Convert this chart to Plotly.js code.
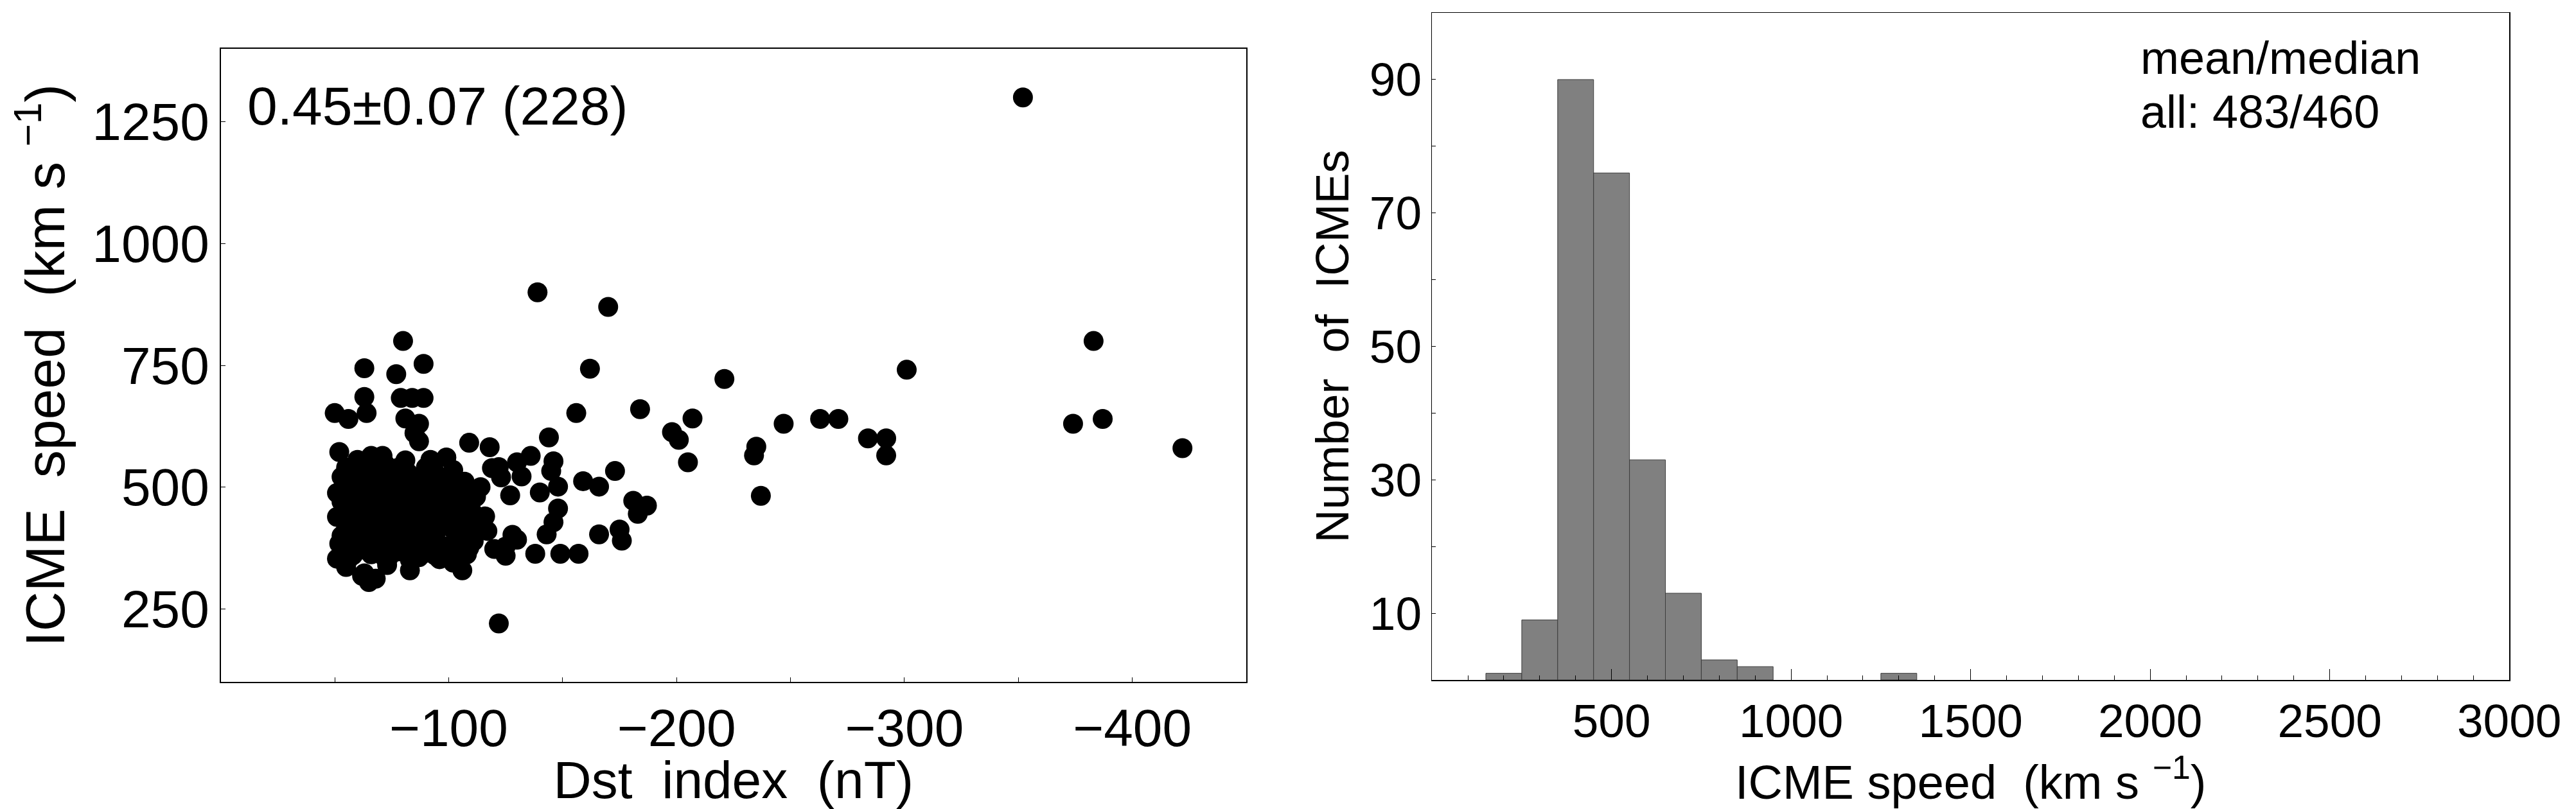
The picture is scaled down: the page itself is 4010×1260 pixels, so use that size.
<!DOCTYPE html>
<html>
<head>
<meta charset="utf-8">
<script src="https://cdn.plot.ly/plotly-3.0.1.min.js"></script>
<style>
  body { margin: 0; background: #fff; }
  #chart { width: 4010px; height: 1260px; }
</style>
</head>
<body>
<div id="chart"></div>
<script>
// Dst index (nT) vs ICME speed (km/s), 228 events
const dstIndex = [
  -352,
  -139, -170,
  -80, -383, -89,
  -63, -77, -162, -301, -221, -63, -79, -84, -89, -184, -156, -50, -64,
  -56, -81, -207, -263, -271, -387, -374, -247, -87, -85, -87, -198, -201, -144, -284, -292, -292,
  -234, -235, -422, -109, -118, -52, -205, -66, -71, -81, -92, -99, -146, -136, -130, -60,
  -173, -159, -166, -181, -187, -145, -148, -148, -140, -127, -132, -119, -122, -237, -107, -53, -51, -123, -108,
  -55, -58, -62, -65, -68, -72, -75, -78, -82, -86, -90, -94, -98, -102, -104,
  -54, -58, -62, -66, -70, -74, -78, -82, -86, -90, -94, -98, -102, -106, -110,
  -53, -57, -61, -65, -69, -73, -77, -81, -85, -89, -93, -97, -101, -105, -112,
  -56, -60, -64, -70, -76, -80, -84, -88, -92, -96, -100, -114,
  -183, -166, -175, -176, -157, -149, -138, -146, -143, -130, -125, -120, -125, -111, -116, -100,
  -111, -103, -83, -87, -51, -51, -52, -91, -97, -128, -117, -106,
  -54, -58, -62, -66, -70, -74, -78, -82, -86, -90, -94, -98, -102, -106, -108, -113,
  -55, -59, -63, -67, -71, -75, -79, -83, -87, -91, -95, -99, -103, -107, -110,
  -53, -57, -61, -65, -69, -73, -77, -81, -85, -89, -93, -105, -109,
  -54, -58, -62, -66, -70, -74, -78, -82, -86, -90, -94, -98, -104, -108,
  -60, -72, -96, -56,
  -106, -68, -63, -55, -62, -73, -83, -102, -65,
  -122
];
const icmeSpeed = [
  1300,
  900, 870,
  800, 800, 753,
  744, 732, 743, 741, 722, 685, 683, 683, 683, 660, 652, 652, 652,
  640, 641, 641, 640, 640, 640, 630, 630, 630, 611, 594, 613, 597, 602, 600, 600, 565,
  565, 583, 580, 591, 582, 572, 551, 564, 564, 555, 556, 561, 553, 564, 551, 556,
  533, 512, 501, 472, 462, 533, 501, 456, 489, 483, 522, 539, 541, 482, 511, 521, 488, 520, 459,
  540, 530, 545, 520, 535, 548, 525, 540, 530, 520, 540, 530, 520, 535, 500,
  505, 495, 510, 500, 490, 505, 495, 510, 500, 490, 505, 495, 485, 490, 470,
  470, 460, 475, 465, 480, 470, 460, 475, 465, 480, 470, 460, 470, 455, 480,
  455, 485, 458, 515, 478, 452, 488, 458, 515, 482, 452, 500,
  445, 403, 413, 390, 363, 363, 363, 428, 403, 392, 378, 373, 359, 445, 440, 378,
  389, 356, 351, 356, 353, 439, 384, 406, 380, 402, 410, 425,
  445, 435, 448, 438, 446, 432, 444, 436, 447, 434, 445, 432, 442, 438, 448, 425,
  420, 410, 425, 412, 422, 408, 420, 410, 423, 425, 412, 420, 405, 400, 412,
  400, 390, 402, 388, 398, 385, 396, 388, 398, 386, 395, 385, 375,
  370, 360, 372, 362, 375, 358, 368, 372, 380, 365, 360, 368, 370, 362,
  380, 355, 352, 352,
  329, 312, 323, 336, 318, 340, 329, 345, 305,
  220
];

// histogram of ICME speed, 100 km/s bins
const speedBinCenters = [200, 300, 400, 500, 600, 700, 800, 900, 1300];
const icmeCounts = [1, 9, 90, 76, 33, 13, 3, 2, 1];

// tick labels
const dstTicks = [-100, -200, -300, -400];
const speedTicks = [250, 500, 750, 1000, 1250];
const histSpeedTicks = [500, 1000, 1500, 2000, 2500, 3000];
const countTicks = [10, 30, 50, 70, 90];
const countMinorTicks = [20, 40, 60, 80];

const FONT = 'Liberation Sans, Arial, sans-serif';
const NB = '\u00a0';

const traces = [
  {
    x: dstIndex,
    y: icmeSpeed,
    type: 'scatter',
    mode: 'markers',
    marker: { color: '#000', size: 31, line: { width: 0 } },
    xaxis: 'x',
    yaxis: 'y',
    hoverinfo: 'skip'
  },
  {
    x: speedBinCenters,
    y: icmeCounts,
    type: 'bar',
    width: 100,
    marker: { color: '#808080', line: { color: '#3c3c3c', width: 1 } },
    xaxis: 'x2',
    yaxis: 'y2',
    hoverinfo: 'skip'
  }
];

const layout = {
  width: 4010,
  height: 1260,
  margin: { l: 0, r: 0, t: 0, b: 0 },
  paper_bgcolor: '#fff',
  plot_bgcolor: '#fff',
  showlegend: false,
  font: { family: FONT, color: '#000' },

  xaxis: {
    domain: [0.0857, 0.4838],
    anchor: 'y',
    range: [0, -450],
    tickmode: 'array', tickvals: dstTicks,
    ticks: 'inside', ticklen: 7, tickcolor: '#000',
    minor: { tick0: 0, dtick: 50, ticks: 'inside', ticklen: 7, tickcolor: '#000' },
    showline: true, mirror: true, linecolor: '#000', linewidth: 1.5,
    showgrid: false, zeroline: false,
    tickfont: { size: 82 },
    ticklabelstandoff: 0,
    automargin: false,
    title: { text: 'Dst' + NB + NB + 'index' + NB + NB + '(nT)', font: { size: 82 }, standoff: 5 }
  },
  yaxis: {
    domain: [0.1571, 0.9397],
    anchor: 'x',
    range: [100, 1400],
    tickmode: 'array', tickvals: speedTicks,
    ticks: 'inside', ticklen: 7, tickcolor: '#000',
    showline: true, mirror: true, linecolor: '#000', linewidth: 1.5,
    showgrid: false, zeroline: false,
    tickfont: { size: 82 },
    automargin: false,
    title: { text: 'ICME' + NB + NB + 'speed' + NB + NB + '(km s ' + '<sup>\u22121</sup>)', font: { size: 86 }, standoff: 14 }
  },

  xaxis2: {
    domain: [0.5559, 0.9741],
    anchor: 'y2',
    range: [0, 3000],
    tickmode: 'array', tickvals: histSpeedTicks,
    ticks: 'inside', ticklen: 17, tickcolor: '#000',
    minor: { tick0: 0, dtick: 100, ticks: 'inside', ticklen: 7, tickcolor: '#000' },
    showline: true, mirror: true, linecolor: '#000', linewidth: 1.5,
    showgrid: false, zeroline: false,
    tickfont: { size: 73 },
    ticklabelstandoff: 0,
    automargin: false,
    title: { text: 'ICME speed' + NB + NB + '(km s ' + '<sup>\u22121</sup>)', font: { size: 74 }, standoff: 30 }
  },
  // outward half of the crossing major ticks
  xaxis3: {
    overlaying: 'x2',
    anchor: 'y2',
    range: [0, 3000],
    tick0: 0, dtick: 500,
    ticks: 'outside', ticklen: 17, tickcolor: '#000',
    showticklabels: false, showline: false, showgrid: false, zeroline: false
  },
  yaxis2: {
    domain: [0.1595, 0.9841],
    anchor: 'x2',
    range: [0, 100],
    tickmode: 'array',
    tickvals: countTicks,
    ticks: 'inside', ticklen: 6, tickcolor: '#000',
    minor: { tickmode: 'array', tickvals: countMinorTicks, ticks: 'inside', ticklen: 6, tickcolor: '#000' },
    showline: true, mirror: true, linecolor: '#000', linewidth: 1.5,
    showgrid: false, zeroline: false,
    tickfont: { size: 73 },
    automargin: false,
    title: { text: 'Number' + NB + NB + 'of' + NB + NB + 'ICMEs', font: { size: 72 }, standoff: 8 }
  },

  annotations: [
    {
      xref: 'paper', yref: 'paper', x: 0.0955, y: 0.869,
      xanchor: 'left', yanchor: 'middle', showarrow: false,
      text: '0.45\u00b10.07 (228)', font: { size: 84 }
    },
    {
      xref: 'paper', yref: 'paper', x: 0.8303, y: 0.9286,
      xanchor: 'left', yanchor: 'middle', showarrow: false,
      text: 'mean/median', font: { size: 72 }
    },
    {
      xref: 'paper', yref: 'paper', x: 0.8303, y: 0.8619,
      xanchor: 'left', yanchor: 'middle', showarrow: false,
      text: 'all: 483/460', font: { size: 72 }
    }
  ]
};

Plotly.newPlot('chart', traces, layout, { staticPlot: true, displayModeBar: false });
</script>
</body>
</html>
